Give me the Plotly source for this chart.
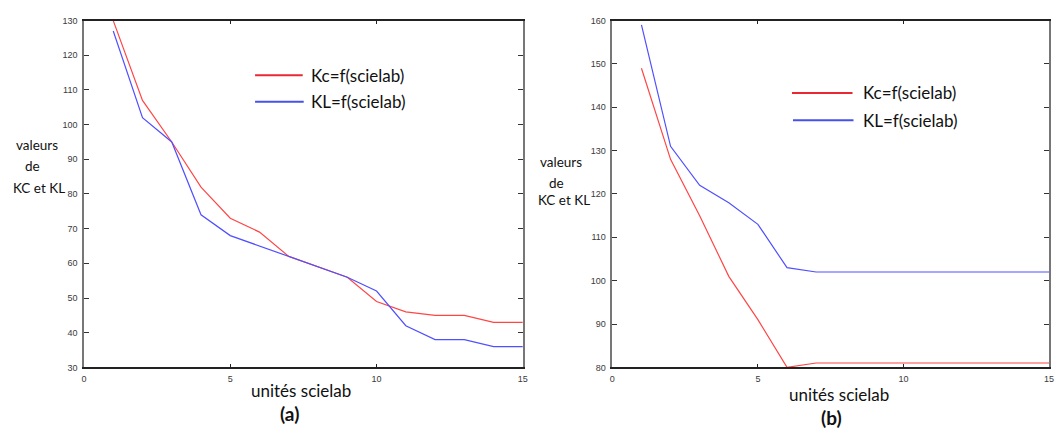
import plotly.graph_objects as go

# scielab units (x) and K values for both experiments
units = list(range(1, 16))

kc_a = [130, 107, 95, 82, 73, 69, 62, 59, 56, 49, 46, 45, 45, 43, 43]
kl_a = [127, 102, 95, 74, 68, 65, 62, 59, 56, 52, 42, 38, 38, 36, 36]

kc_b = [149, 128, 115, 101, 91, 80, 81, 81, 81, 81, 81, 81, 81, 81, 81]
kl_b = [159, 131, 122, 118, 113, 103, 102, 102, 102, 102, 102, 102, 102, 102, 102]

x_ticks = [0, 5, 10, 15]
y_ticks_a = list(range(30, 131, 10))
y_ticks_b = list(range(80, 161, 10))

legend_kc = "Kc=f(scielab)"
legend_kl = "KL=f(scielab)"
x_title = "unités scielab"
y_title_lines = ["valeurs", "de", "KC et KL"]

W, H = 1055, 429
RED = "rgb(255,70,70)"
BLUE = "rgb(80,80,255)"
TEXT_FONT = "Lato, Carlito, Calibri, sans-serif"
TICK_FONT = dict(family="Liberation Sans, Arial, sans-serif", size=9, color="#3a3a3a")


def px(x):
    return x / W


def py(y):
    return 1 - y / H


fig = go.Figure()
fig.add_trace(go.Scatter(x=units, y=kc_a, mode="lines", line=dict(color=RED, width=1.2),
                         xaxis="x", yaxis="y", showlegend=False))
fig.add_trace(go.Scatter(x=units, y=kl_a, mode="lines", line=dict(color=BLUE, width=1.2),
                         xaxis="x", yaxis="y", showlegend=False))
fig.add_trace(go.Scatter(x=units, y=kc_b, mode="lines", line=dict(color=RED, width=1.2),
                         xaxis="x2", yaxis="y2", showlegend=False))
fig.add_trace(go.Scatter(x=units, y=kl_b, mode="lines", line=dict(color=BLUE, width=1.2),
                         xaxis="x2", yaxis="y2", showlegend=False))

y_dom = [py(371), py(16)]


def xaxis(domain, anchor):
    return dict(domain=domain, anchor=anchor, range=[0, 15], tickvals=x_ticks,
                ticks="inside", ticklen=4, tickcolor="#222", showline=True,
                linecolor="#222", linewidth=1.5, mirror="ticks", showgrid=False,
                zeroline=False, tickfont=TICK_FONT, ticklabelstandoff=2)


def yaxis(domain, anchor, rng, vals):
    return dict(domain=domain, anchor=anchor, range=rng, tickvals=vals,
                ticks="inside", ticklen=5, tickcolor="#333", showline=True,
                linecolor="#777", linewidth=1.5, mirror="ticks", showgrid=False,
                zeroline=False, tickfont=TICK_FONT, ticklabelstandoff=3)


fig.update_layout(
    width=W, height=H,
    margin=dict(l=0, r=0, t=0, b=0),
    paper_bgcolor="white", plot_bgcolor="white",
    xaxis=xaxis([px(81.6), px(523.8)], "y"),
    yaxis=yaxis(y_dom, "x", [30, 130], y_ticks_a),
    xaxis2=xaxis([px(614), px(1054)], "y2"),
    yaxis2=yaxis(y_dom, "x2", [80, 160], y_ticks_b),
)

shapes = []
annotations = []


def text(label, x, y, size, anchor="center", bold=False):
    annotations.append(dict(text=("<b>%s</b>" % label) if bold else label,
                            xref="paper", yref="paper", x=px(x), y=py(y),
                            xanchor=anchor, yanchor="middle", showarrow=False,
                            font=dict(family=TEXT_FONT, size=size, color="#111")))


def legend_entry(x0, x1, y, color, label, tx):
    shapes.append(dict(type="line", xref="paper", yref="paper",
                       x0=px(x0), x1=px(x1), y0=py(y), y1=py(y),
                       line=dict(color=color, width=2)))
    text(label, tx, y, 17, anchor="left")


# panel (a)
legend_entry(254, 302, 72, "rgb(235,40,50)", legend_kc, 308)
legend_entry(254, 303, 99, "rgb(70,80,235)", legend_kl, 308)
# panel (b)
legend_entry(795, 856, 90, "rgb(235,40,50)", legend_kc, 865)
legend_entry(796, 857, 118, "rgb(70,80,235)", legend_kl, 865)

# y titles: three stacked lines per panel
for (cx_list, cy_list) in [
    ([34, 30, 36], [143, 165, 187]),
    ([562, 558, 565], [161, 182, 200]),
]:
    for line, cx, cy in zip(y_title_lines, cx_list, cy_list):
        text(line, cx, cy, 13.5)

# x titles and panel tags
text(x_title, 300, 395, 17)
text("(a)", 289, 418, 19, bold=True)
text(x_title, 842, 399, 17)
text("(b)", 835, 422, 19, bold=True)

fig.update_layout(shapes=shapes, annotations=annotations)
fig.write_html("out.html")
